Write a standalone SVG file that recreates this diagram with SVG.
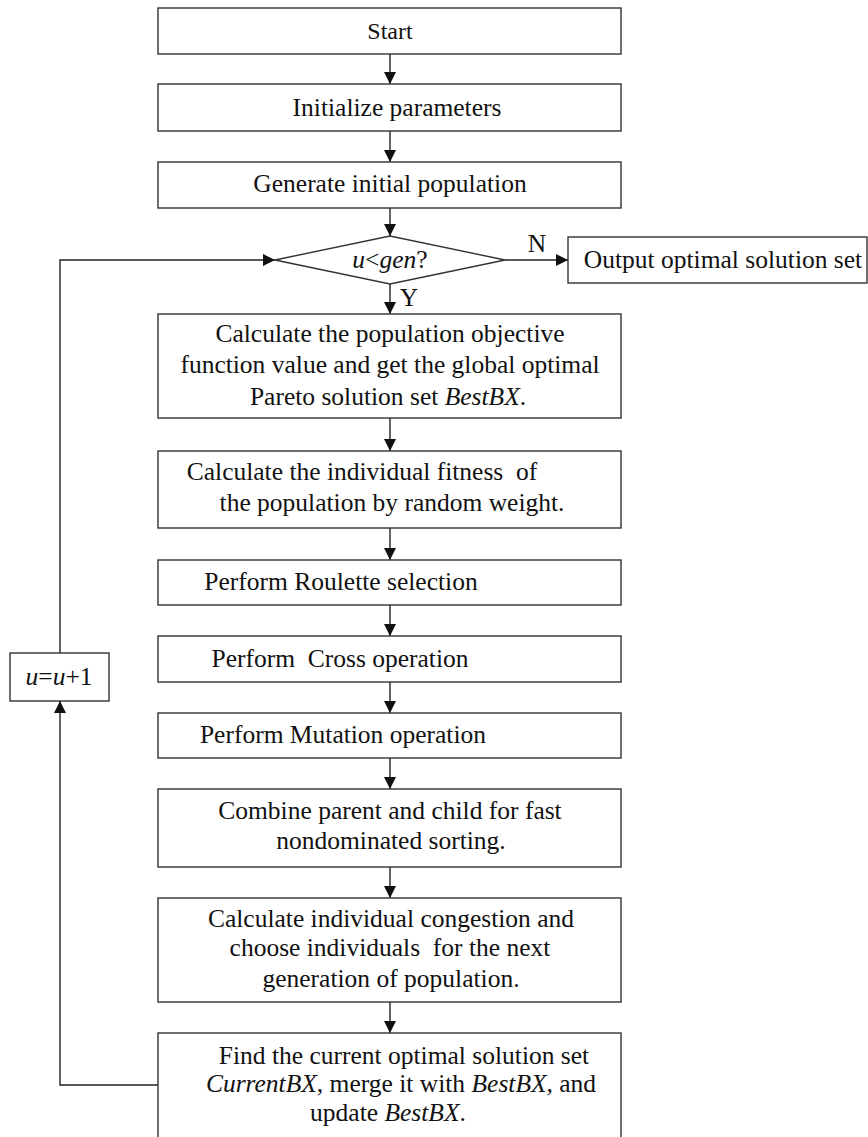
<svg xmlns="http://www.w3.org/2000/svg" width="868" height="1137" viewBox="0 0 868 1137">
<style>
.box{fill:#fff;stroke:#333;stroke-width:1.4}
.t{font-family:"Liberation Serif","Times New Roman",serif;font-size:25.5px;fill:#111;text-anchor:middle;white-space:pre}
.i{font-style:italic}
.c{fill:none;stroke:#222;stroke-width:1.4}
</style>
<defs>
<marker id="ah" markerUnits="userSpaceOnUse" markerWidth="13" markerHeight="12" refX="12" refY="6" orient="auto">
<path d="M0,0 L12,6 L0,12 z" fill="#111"/>
</marker>
</defs>
<rect width="868" height="1137" fill="#fff"/>
<g id="connectors">
<line class="c" x1="390" y1="54" x2="390" y2="84" marker-end="url(#ah)"/>
<line class="c" x1="390" y1="131" x2="390" y2="162" marker-end="url(#ah)"/>
<line class="c" x1="390" y1="208" x2="390" y2="236" marker-end="url(#ah)"/>
<line class="c" x1="505" y1="260" x2="568" y2="260" marker-end="url(#ah)"/>
<line class="c" x1="390" y1="284" x2="390" y2="314" marker-end="url(#ah)"/>
<line class="c" x1="390" y1="418" x2="390" y2="451" marker-end="url(#ah)"/>
<line class="c" x1="390" y1="528" x2="390" y2="560" marker-end="url(#ah)"/>
<line class="c" x1="390" y1="605" x2="390" y2="636" marker-end="url(#ah)"/>
<line class="c" x1="390" y1="682" x2="390" y2="713" marker-end="url(#ah)"/>
<line class="c" x1="390" y1="758" x2="390" y2="789" marker-end="url(#ah)"/>
<line class="c" x1="390" y1="867" x2="390" y2="898" marker-end="url(#ah)"/>
<line class="c" x1="390" y1="1002" x2="390" y2="1033" marker-end="url(#ah)"/>
<path class="c" d="M158,1085 H60 V701" marker-end="url(#ah)"/>
<path class="c" d="M60,653 V260 H275" marker-end="url(#ah)"/>
<text class="t" x="537" y="252">N</text>
<text class="t" x="409" y="306">Y</text>
</g>
<g id="start"><rect class="box" x="158" y="8" width="463" height="46"/><text class="t" x="390" y="39" style="font-size:24px">Start</text></g>
<g id="init"><rect class="box" x="158" y="84" width="463" height="47"/><text class="t" x="397" y="116">Initialize parameters</text></g>
<g id="gen"><rect class="box" x="158" y="162" width="463" height="46"/><text class="t" x="390" y="192">Generate initial population</text></g>
<g id="cond"><path class="box" d="M275,260 L390,236 L505,260 L390,284 Z"/><text class="t" x="390" y="268"><tspan class="i">u</tspan>&lt;<tspan class="i">gen</tspan>?</text></g>
<g id="output"><rect class="box" x="568" y="237" width="299" height="46"/><text class="t" x="723" y="268">Output optimal solution set</text></g>
<g id="calc-obj"><rect class="box" x="158" y="314" width="463" height="104"/>
<text class="t" x="390" y="342">Calculate the population objective</text>
<text class="t" x="390" y="373">function value and get the global optimal</text>
<text class="t" x="388" y="405">Pareto solution set <tspan class="i">BestBX</tspan>.</text></g>
<g id="fitness"><rect class="box" x="158" y="451" width="463" height="77"/>
<text class="t" x="362" y="480">Calculate the individual fitness  of</text>
<text class="t" x="392" y="511">the population by random weight.</text></g>
<g id="roulette"><rect class="box" x="158" y="560" width="463" height="45"/><text class="t" x="341" y="590">Perform Roulette selection</text></g>
<g id="cross"><rect class="box" x="158" y="636" width="463" height="46"/><text class="t" x="340" y="667">Perform  Cross operation</text></g>
<g id="mutation"><rect class="box" x="158" y="713" width="463" height="45"/><text class="t" x="343" y="743">Perform Mutation operation</text></g>
<g id="combine"><rect class="box" x="158" y="789" width="463" height="78"/>
<text class="t" x="390" y="819">Combine parent and child for fast</text>
<text class="t" x="391" y="849">nondominated sorting.</text></g>
<g id="congestion"><rect class="box" x="158" y="898" width="463" height="104"/>
<text class="t" x="391" y="927">Calculate individual congestion and</text>
<text class="t" x="390" y="956">choose individuals  for the next</text>
<text class="t" x="391" y="987">generation of population.</text></g>
<g id="find"><rect class="box" x="158" y="1033" width="463" height="110"/>
<text class="t" x="404" y="1064">Find the current optimal solution set</text>
<text class="t" x="401" y="1092"><tspan class="i">CurrentBX</tspan>, merge it with <tspan class="i">BestBX</tspan>, and</text>
<text class="t" x="388" y="1121">update <tspan class="i">BestBX</tspan>.</text></g>
<g id="incr"><rect class="box" x="10" y="653" width="99" height="48"/><text class="t" x="59" y="685"><tspan class="i">u</tspan>=<tspan class="i">u</tspan>+1</text></g>
</svg>
